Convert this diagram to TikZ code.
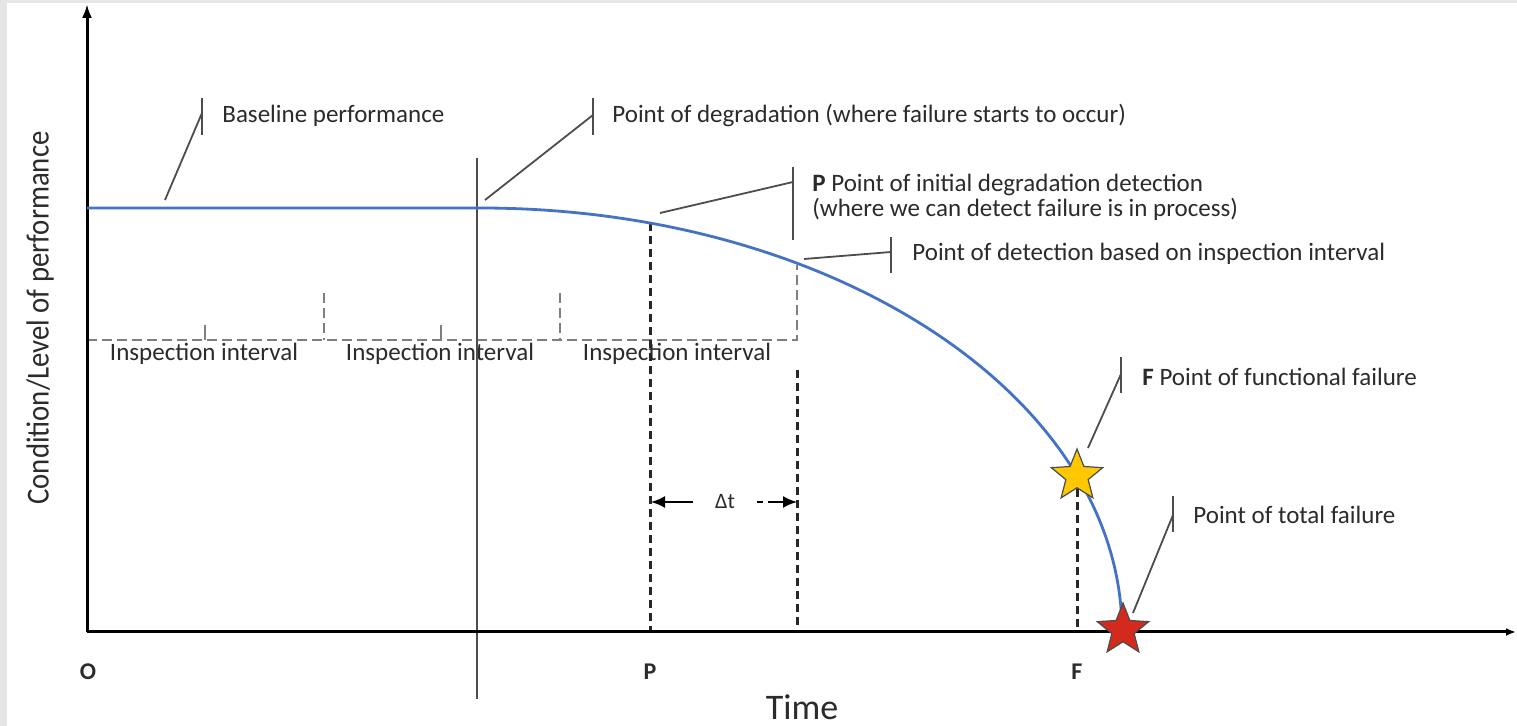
\documentclass[tikz,border=0pt]{standalone}
\usepackage{fontspec}
\setmainfont{Carlito}
\usepackage{graphicx}
\usetikzlibrary{shapes.geometric,arrows.meta}
\definecolor{bgray}{HTML}{E6E6E6}
\definecolor{curveblue}{HTML}{4472C4}
\definecolor{txt}{HTML}{2B2B2B}
\definecolor{callgray}{HTML}{4D4D4D}
\definecolor{inspgray}{HTML}{7F7F7F}
\definecolor{starY}{HTML}{FFC800}
\definecolor{starR}{HTML}{D42A1E}
\begin{document}
\begin{tikzpicture}[x=0.5pt,y=-0.5pt,
  lbl/.style={anchor=west, inner sep=0pt, font=\fontsize{12.5}{12}\selectfont, text=txt},
  ilbl/.style={inner sep=0pt, font=\fontsize{12.5}{12}\selectfont, text=txt},
  axlbl/.style={inner sep=0pt, font=\fontsize{12}{12}\selectfont\bfseries, text=txt},
  callout/.style={draw=callgray, line width=0.9pt},
  axisline/.style={draw=black, line width=1.5pt},
  blackdash/.style={draw=black!85, line width=1.5pt, dash pattern=on 4pt off 2.5pt},
  graydash/.style={draw=inspgray, line width=1pt, dash pattern=on 5pt off 2.5pt},
  staricon/.style={star, star points=5, star point ratio=2.3, minimum size=27pt, inner sep=0pt, draw=black!70, line width=0.6pt}
  ]
\fill[bgray] (0,0) rectangle (1517,726);
\fill[white] (7,3) rectangle (1517,726);
\useasboundingbox (0,0) rectangle (1517,726);

% coordinates
\coordinate (O) at (87,632);
\coordinate (ytop) at (87,4);
\coordinate (xend) at (1516,632);
\coordinate (base0) at (87,208);
\coordinate (deg) at (480,208);
\coordinate (Pc) at (650,223.5);
\coordinate (Pb) at (650,632);
\coordinate (Dc) at (797,265);
\coordinate (Dlow) at (797,370);
\coordinate (Db) at (797,632);
\coordinate (Fc) at (1077,476);
\coordinate (Fb) at (1077,632);

% inspection interval line
\coordinate (i0) at (87,340);
\coordinate (i1) at (797,340);
\draw[graydash] (i0) -- (i1) -- (Dc);
\coordinate (t1a) at (324,293); \coordinate (t1b) at (324,340);
\coordinate (t2a) at (560,293); \coordinate (t2b) at (560,340);
\draw[graydash] (t1a) -- (t1b);
\draw[graydash] (t2a) -- (t2b);
\coordinate (s1a) at (205,325); \coordinate (s1b) at (205,340);
\coordinate (s2a) at (441,325); \coordinate (s2b) at (441,340);
\draw[draw=inspgray, line width=1pt] (s1a) -- (s1b);
\draw[draw=inspgray, line width=1pt] (s2a) -- (s2b);
\node[ilbl] (ii1) at (204,354) {Inspection interval};
\node[ilbl] (ii2) at (440,354) {Inspection interval};
\node[ilbl] (ii3) at (677,354) {Inspection interval};

% degradation vertical line
\coordinate (v1) at (477,158);
\coordinate (v2) at (477,699);
\draw[draw=callgray, line width=0.9pt] (v1) -- (v2);

% black dashed lines
\draw[blackdash] (Pc) -- (Pb);
\draw[blackdash] (Dlow) -- (Db);
\draw[blackdash] (Fc) -- (Fb);

% axes
\draw[axisline, -{Latex[length=7pt,width=5pt]}] (O) -- (ytop);
\draw[axisline, -{Latex[length=5pt,width=4pt]}] (O) -- (xend);

% performance curve
\draw[draw=curveblue, line width=1.4pt] (base0) -- (deg) arc[start angle=-90, end angle=0, x radius=642, y radius=424];

% delta t
\coordinate (dl0) at (693,502); \coordinate (dl1) at (651,502);
\coordinate (dr0) at (768,502); \coordinate (dr1) at (797,502);
\coordinate (dd0) at (757,502); \coordinate (dd1) at (763,502);
\draw[line width=1pt, -{Latex[length=7pt,width=6pt]}] (dl0) -- (dl1);
\draw[line width=1pt] (dd0) -- (dd1);
\draw[line width=1pt, -{Latex[length=7pt,width=6pt]}] (dr0) -- (dr1);
\node[ilbl, font=\fontsize{11}{12}\selectfont] (dt) at (725,502) {Δt};

% callouts
\coordinate (c1a) at (165,200); \coordinate (c1b) at (202,113);
\coordinate (c1t) at (202,98); \coordinate (c1u) at (202,135);
\draw[callout] (c1a) -- (c1b); \draw[callout] (c1t) -- (c1u);
\node[lbl] (n1) at (222,116) {Baseline performance};

\coordinate (c2a) at (485,200); \coordinate (c2b) at (593,115);
\coordinate (c2t) at (593,98); \coordinate (c2u) at (593,135);
\draw[callout] (c2a) -- (c2b); \draw[callout] (c2t) -- (c2u);
\node[lbl] (n2) at (612,116) {Point of degradation (where failure starts to occur)};

\coordinate (c3a) at (660,213); \coordinate (c3b) at (793,182);
\coordinate (c3t) at (793,167); \coordinate (c3u) at (793,240);
\draw[callout] (c3a) -- (c3b); \draw[callout] (c3t) -- (c3u);
\node[lbl, align=left, font=\fontsize{12.5}{12.5}\selectfont] (n3) at (812,197) {\textbf{P} Point of initial degradation detection\\(where we can detect failure is in process)};

\coordinate (c4a) at (804,259); \coordinate (c4b) at (891,252);
\coordinate (c4t) at (891,237); \coordinate (c4u) at (891,273);
\draw[callout] (c4a) -- (c4b); \draw[callout] (c4t) -- (c4u);
\node[lbl] (n4) at (912,254) {Point of detection based on inspection interval};

\coordinate (c5a) at (1088,448); \coordinate (c5b) at (1121,374);
\coordinate (c5t) at (1121,357); \coordinate (c5u) at (1121,393);
\draw[callout] (c5a) -- (c5b); \draw[callout] (c5t) -- (c5u);
\node[lbl] (n5) at (1142,377) {\textbf{F} Point of functional failure};

\coordinate (c6a) at (1133,613); \coordinate (c6b) at (1173,515);
\coordinate (c6t) at (1173,496); \coordinate (c6u) at (1173,532);
\draw[callout] (c6a) -- (c6b); \draw[callout] (c6t) -- (c6u);
\node[lbl] (n6) at (1193,515) {Point of total failure};

% stars
\node[staricon, fill=starY] (ystar) at (Fc) {};
\node[staricon, fill=starR] (rstar) at (1123,630) {};

% axis labels
\node[axlbl] (lO) at (88,672) {O};
\node[axlbl] (lP) at (650,672) {P};
\node[axlbl] (lF) at (1077,672) {F};
\node[inner sep=0pt, font=\fontsize{18}{20}\selectfont, text=txt] (time) at (802,707) {Time};
\node[inner sep=0pt, rotate=90, text=txt] (ylab) at (40,318) {\scalebox{0.9}[1]{\fontsize{16}{18}\selectfont Condition/Level of performance}};
\end{tikzpicture}
\end{document}
